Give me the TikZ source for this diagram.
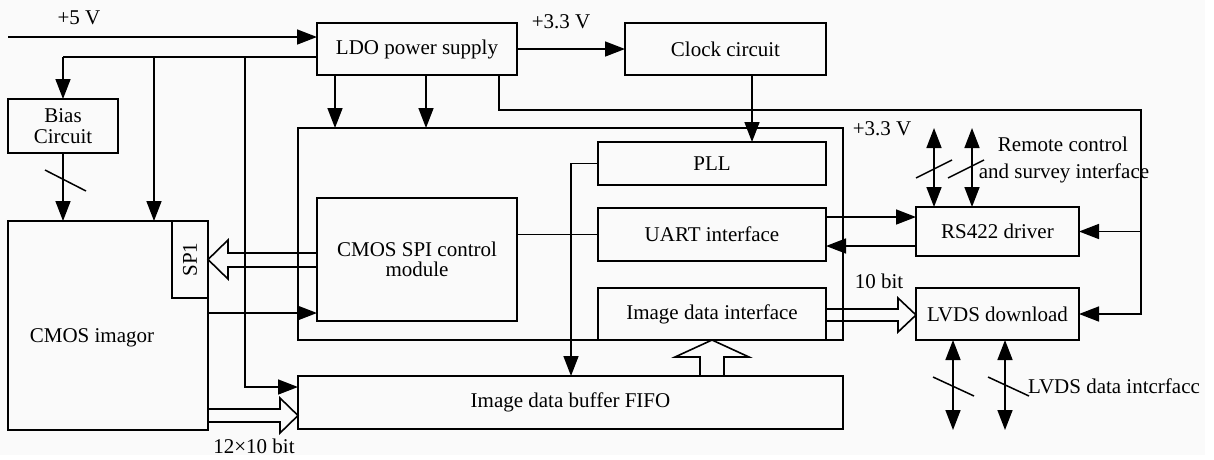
\documentclass[tikz,border=0pt]{standalone}
\usepackage{fontspec}
\setmainfont{Liberation Serif}
\usetikzlibrary{arrows.meta}
\newcommand{\dfont}{\fontsize{21}{20.5}\selectfont}
\begin{document}
\begin{tikzpicture}[x=1pt,y=-1pt, line width=1.6pt,
  blk/.style={draw, rectangle, inner sep=0pt, outer sep=0pt, align=center, font=\dfont},
  arr/.style={-{Triangle[length=20pt,width=15pt]}},
  darr/.style={{Triangle[length=20pt,width=15pt]}-{Triangle[length=20pt,width=15pt]}},
  lbl/.style={inner sep=0pt, anchor=base, font=\dfont},
  hollow/.style={line join=miter},
  slash/.style={line width=1.5pt}]
\fill[white] (0,0) rectangle (1214,459);
\useasboundingbox (0,0) rectangle (1214,459);
\fill[black!2] (0,0) rectangle (1205,455);

% blocks
\node[blk, minimum width=200pt, minimum height=52pt] (ldo) at (417,49) {LDO power supply};
\node[blk, minimum width=201pt, minimum height=52pt] (clk) at (725.5,49) {Clock circuit};
\node[blk, minimum width=110pt, minimum height=54pt] (bias) at (63,126) {Bias\\Circuit};
\node[blk, minimum width=200pt, minimum height=209pt] (cmos) at (108,325.5) {};
\node[lbl] (cmostxt) at (92,342) {CMOS imagor};
\node[blk, minimum width=36pt, minimum height=77pt] (sp1) at (190,259.5) {};
\node[lbl, anchor=center, rotate=90] (sp1txt) at (sp1) {SP1};
\node[blk, minimum width=545pt, minimum height=212pt] (fpga) at (570.5,234) {};
\node[blk, minimum width=200pt, minimum height=123pt] (spi) at (417,259.5) {CMOS SPI control\\module};
\node[blk, minimum width=228pt, minimum height=43pt] (pll) at (712,163.5) {PLL};
\node[blk, minimum width=228pt, minimum height=53pt] (uart) at (712,234.5) {UART interface};
\node[blk, minimum width=228pt, minimum height=52pt] (idi) at (712,314) {Image data interface};
\node[blk, minimum width=545pt, minimum height=53pt] (fifo) at (570.5,402.5) {Image data buffer FIFO};
\node[blk, minimum width=163pt, minimum height=49pt] (rs) at (997.5,231.5) {RS422 driver};
\node[blk, minimum width=163pt, minimum height=52pt] (lvds) at (997.5,314) {LVDS download};

% labels
\node[lbl] (v5) at (79,24) {+5 V};
\node[lbl] (v33a) at (561,28) {+3.3 V};
\node[lbl] (v33b) at (882,135) {+3.3 V};
\node[lbl] (rc1) at (1063,151) {Remote control};
\node[lbl] (rc2) at (1064,178) {and survey interface};
\node[lbl] (b10) at (879,288) {10 bit};
\node[lbl] (lvl) at (1114,393) {LVDS data intcrfacc};
\node[lbl] (b12) at (254,453) {12×10 bit};

% +5 V supply
\coordinate (in5) at (8,37);
\draw[arr] (in5) -- (in5 -| ldo.west);
\coordinate (j1) at (63,57);
\coordinate (j2) at (154,57);
\coordinate (j3) at (245,57);
\coordinate (j4) at (245,387);
\draw (ldo.west |- j1) -- (j1);
\draw[arr] (j1) -- (bias.north);
\draw[arr] (j2) -- (j2 |- cmos.north);
\draw[arr] (j3) -- (j4) -- (j4 -| fifo.west);
\draw[arr] (bias.south) -- (bias.south |- cmos.north);
\draw[slash] (45,170) -- (86,191);

% LDO outputs
\draw[arr] (ldo.east) -- (clk.west);
\draw[arr] ([xshift=-82pt]ldo.south) -- ([xshift=-82pt]ldo.south |- fpga.north);
\draw[arr] ([xshift=9pt]ldo.south) -- ([xshift=9pt]ldo.south |- fpga.north);
\coordinate (w1) at (499,110);
\coordinate (w2) at (1141,110);
\draw[arr] ([xshift=82pt]ldo.south) -- (w1) -- (w2) -- (w2 |- lvds.east) -- (lvds.east);
\draw[arr] (w2 |- rs.east) -- (rs.east);

% clock
\draw[arr] ([xshift=26.5pt]clk.south) -- ([xshift=26.5pt]clk.south |- pll.north);
\coordinate (k1) at (571,163.5);
\draw[arr] (pll.west) -- (k1) -- (k1 |- fifo.north);

% control paths
\draw (spi.east |- uart.west) -- (uart.west);
\draw[arr] ([yshift=17.5pt]uart.east) -- ([yshift=17.5pt]uart.east -| rs.west);
\draw[arr] ([yshift=-11.5pt]uart.east -| rs.west) -- ([yshift=-11.5pt]uart.east);
\coordinate (c1) at (208,313);
\draw[arr] (cmos.east |- c1) -- (c1 -| spi.west);

% remote control interface
\coordinate (r1) at (934,128);
\coordinate (r2) at (972,128);
\draw[darr] (r1) -- (r1 |- rs.north);
\draw[darr] (r2) -- (r2 |- rs.north);
\draw[slash] (916,178) -- (952,160);
\draw[slash] (948,178) -- (984,160);

% LVDS data interface
\coordinate (l1) at (953,430);
\coordinate (l2) at (1005,430);
\draw[darr] (l1 |- lvds.south) -- (l1);
\draw[darr] (l2 |- lvds.south) -- (l2);
\draw[slash] (933,377) -- (974,396);
\draw[slash] (988,377) -- (1029,396);

% hollow bus arrows
\draw[hollow] (317,253) -- (228,253) -- (228,240) -- (208,259.5) -- (228,279) -- (228,267) -- (317,267);
\draw[hollow] (208,409) -- (280,409) -- (280,398) -- (298,415.5) -- (280,433) -- (280,422) -- (208,422);
\draw[hollow] (826,309) -- (898,309) -- (898,298) -- (916,315) -- (898,332) -- (898,321) -- (826,321);
\draw[hollow] (700,376) -- (700,357) -- (675,357) -- (712,340) -- (749,357) -- (724,357) -- (724,376);
\end{tikzpicture}
\end{document}
